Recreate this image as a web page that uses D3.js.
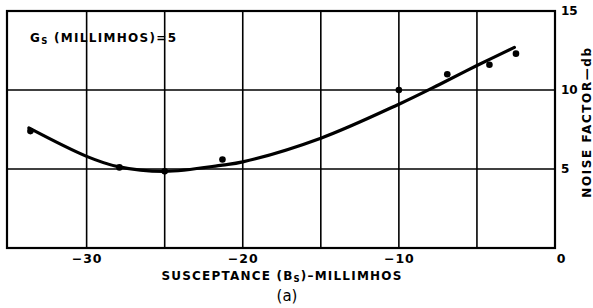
<!DOCTYPE html>
<html>
<head>
<meta charset="utf-8">
<script src="https://cdn.jsdelivr.net/npm/d3@7"></script>
<style>
  body { margin: 0; background: #fff; }
  text { font-family: "DejaVu Sans", sans-serif; fill: #000; }
</style>
</head>
<body>
<div id="chart"></div>
<script>
// measured points (susceptance, noise factor)
const pointsB = [-33.6, -27.9, -25.0, -21.3, -10.0, -6.9, -4.2, -2.5];
const pointsNF = [7.4, 5.1, 4.85, 5.6, 10.0, 11.0, 11.6, 12.3];

// faired curve
const curveB = [-33.7, -30, -28, -25, -21.3, -20, -15, -10, -7.4, -5, -2.6];
const curveNF = [7.6, 5.8, 5.15, 4.85, 5.25, 5.45, 6.95, 9.1, 10.35, 11.55, 12.7];

const xTicks = [-30, -20, -10, 0];
const yTicks = [5, 10, 15];   // the "0" is shared with the x axis
const xGrid = [-30, -25, -20, -15, -10, -5];
const yGrid = [5, 10];

const W = 593, H = 308;
const svg = d3.select("#chart").append("svg")
  .attr("width", W).attr("height", H);

const x = d3.scaleLinear().domain([-35.1, 0]).range([7, 555]);
const y = d3.scaleLinear().domain([0, 15]).range([248, 11]);

// grid
svg.append("g").selectAll("line").data(xGrid).enter().append("line")
  .attr("x1", d => x(d)).attr("x2", d => x(d))
  .attr("y1", y(15)).attr("y2", y(0))
  .attr("stroke", "#000").attr("stroke-width", 1.6);
svg.append("g").selectAll("line").data(yGrid).enter().append("line")
  .attr("x1", x(-35.1)).attr("x2", x(0))
  .attr("y1", d => y(d)).attr("y2", d => y(d))
  .attr("stroke", "#000").attr("stroke-width", 1.6);

// frame
svg.append("rect")
  .attr("x", x(-35.1)).attr("y", y(15))
  .attr("width", x(0) - x(-35.1)).attr("height", y(0) - y(15))
  .attr("fill", "none").attr("stroke", "#000").attr("stroke-width", 2.2);

// axes: labels only
const xAxis = svg.append("g")
  .attr("transform", `translate(0,${y(0)})`)
  .call(d3.axisBottom(x).tickValues(xTicks).tickSize(0).tickPadding(6)
    .tickFormat(d => d === 0 ? "0" : "\u2212" + Math.abs(d)));
xAxis.select(".domain").remove();
xAxis.selectAll("text").attr("font-size", 12.5).attr("dy", "0.71em")
  .attr("font-family", "DejaVu Sans").attr("font-weight", "bold")
  .attr("letter-spacing", 1)
  .attr("dx", d => d === 0 ? 6 : 0);

const yAxis = svg.append("g")
  .attr("transform", `translate(${x(0)},0)`)
  .call(d3.axisRight(y).tickValues(yTicks).tickSize(0).tickPadding(6));
yAxis.select(".domain").remove();
yAxis.selectAll("text").attr("font-size", 12)
  .attr("font-family", "DejaVu Sans").attr("font-weight", "bold")
  .attr("dy", "0.32em");

// faired curve
const curveData = curveB.map((b, i) => [b, curveNF[i]]);
svg.append("path")
  .datum(curveData)
  .attr("d", d3.line().x(d => x(d[0])).y(d => y(d[1])).curve(d3.curveCatmullRom))
  .attr("fill", "none").attr("stroke", "#000").attr("stroke-width", 3.2)
  .attr("stroke-linecap", "round");

// points
svg.append("g").selectAll("circle")
  .data(pointsB.map((b, i) => [b, pointsNF[i]]))
  .enter().append("circle")
  .attr("cx", d => x(d[0])).attr("cy", d => y(d[1])).attr("r", 3.3)
  .attr("fill", "#000");

// labels
const gs = svg.append("text").attr("x", 30).attr("y", 42)
  .attr("font-size", 12).attr("font-weight", "bold").attr("letter-spacing", 1.3);
gs.append("tspan").text("G");
gs.append("tspan").attr("font-size", 8.5).attr("dy", 2).text("S");
gs.append("tspan").attr("dy", -2).text(" (MILLIMHOS)=5");

const xl = svg.append("text").attr("x", 282).attr("y", 280)
  .attr("text-anchor", "middle").attr("font-size", 12).attr("font-weight", "bold")
  .attr("letter-spacing", 1.2);
xl.append("tspan").text("SUSCEPTANCE (B");
xl.append("tspan").attr("font-size", 8.5).attr("dy", 2).text("S");
xl.append("tspan").attr("dy", -2).text(")\u2013MILLIMHOS");

svg.append("text").attr("x", 287).attr("y", 301)
  .attr("text-anchor", "middle").attr("font-size", 15).text("(a)");

svg.append("text")
  .attr("transform", `translate(591,122) rotate(-90)`)
  .attr("text-anchor", "middle").attr("font-size", 12).attr("font-weight", "bold")
  .attr("letter-spacing", 1.6)
  .text("NOISE FACTOR\u2014db");
</script>
</body>
</html>
